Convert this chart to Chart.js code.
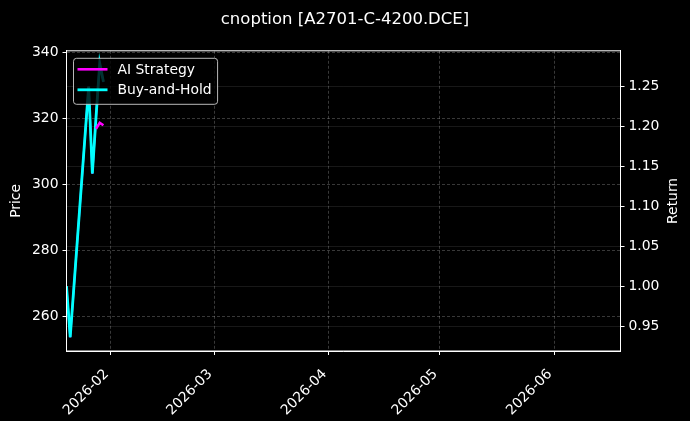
<!DOCTYPE html>
<html>
<head>
<meta charset="utf-8">
<script src="https://cdn.jsdelivr.net/npm/chart.js@4.4.1/dist/chart.umd.min.js"></script>
<style>
  html, body { margin: 0; padding: 0; background: #000; }
  #wrap { width: 690px; height: 421px; }
</style>
</head>
<body>
<div id="wrap"><canvas id="c"></canvas></div>
<script>
// values
const dates = ['2026-01-20', '2026-01-21', '2026-01-26', '2026-01-27', '2026-01-28', '2026-01-29', '2026-01-30'];
const price = [268.8, 253.5, 329.5, 303.1, 320.3, 336.5, 330.9];
const buyHold = [1.000, 0.936, 1.250, 1.141, 1.212, 1.279, 1.256];
const aiDates = ['2026-01-28', '2026-01-29', '2026-01-30'];
const aiStrategy = [1.197, 1.2045, 1.2014];

const xRange = ['2026-01-20', '2026-06-19'];
const monthTicks = ['2026-02-01', '2026-03-01', '2026-04-01', '2026-05-01', '2026-06-01'];
const priceTicks = [260, 280, 300, 320, 340];
const returnTicks = [0.95, 1.00, 1.05, 1.10, 1.15, 1.20, 1.25];

const FONT = 'DejaVu Sans';
const FS = 13.9;
Chart.defaults.font.family = FONT;
Chart.defaults.color = '#fff';

// day number from 2026-01-01
function dayNum(s) {
  const [y, m, d] = s.split('-').map(Number);
  return (Date.UTC(y, m - 1, d) - Date.UTC(2026, 0, 1)) / 86400000;
}
function dayLabel(v) {
  const dt = new Date(Date.UTC(2026, 0, 1) + v * 86400000);
  return dt.getUTCFullYear() + '-' + String(dt.getUTCMonth() + 1).padStart(2, '0');
}
const pts = (ds, vs) => ds.map((d, i) => ({ x: dayNum(d), y: vs[i] }));

const boxPlugin = {
  id: 'boxPlugin',
  afterDatasetsDraw(chart) {
    const ctx = chart.ctx;
    const a = chart.chartArea;
    ctx.save();
    ctx.setLineDash([]);
    // legend inside the axes, upper left
    const items = chart.data.datasets.filter(d => d.inLegend);
    ctx.font = FS + 'px ' + FONT;
    const tw = Math.max(...items.map(d => ctx.measureText(d.label).width));
    const bx = a.left + 7, by = a.top + 7.5, rowH = 20.5;
    const bw = 44 + tw + 6, bh = rowH * items.length + 5;
    ctx.beginPath();
    ctx.roundRect(bx, by, bw, bh, 3);
    ctx.fillStyle = 'rgba(0,0,0,0.8)';
    ctx.fill();
    ctx.strokeStyle = 'rgba(204,204,204,0.9)';
    ctx.lineWidth = 1;
    ctx.stroke();
    items.forEach((d, i) => {
      const y = by + 11 + i * rowH;
      ctx.strokeStyle = d.borderColor;
      ctx.lineWidth = d.borderWidth;
      ctx.beginPath();
      ctx.moveTo(bx + 4, y);
      ctx.lineTo(bx + 34, y);
      ctx.stroke();
      ctx.fillStyle = '#fff';
      ctx.textBaseline = 'middle';
      ctx.textAlign = 'left';
      ctx.fillText(d.label, bx + 44, y + 1);
    });
    // axes frame
    ctx.strokeStyle = '#fff';
    ctx.lineWidth = 1;
    ctx.strokeRect(a.left, a.top, a.right - a.left, a.bottom - a.top);
    // right axis label, reading bottom to top
    ctx.translate(673, (a.top + a.bottom) / 2);
    ctx.rotate(-Math.PI / 2);
    ctx.font = FS + 'px ' + FONT;
    ctx.fillStyle = '#fff';
    ctx.textAlign = 'center';
    ctx.textBaseline = 'middle';
    ctx.fillText('Return', 0, 0);
    ctx.restore();
  }
};

const gridCol = 'rgba(255,255,255,0.22)';

new Chart(document.getElementById('c'), {
  type: 'line',
  data: {
    datasets: [
      { label: 'AI Strategy', inLegend: true, data: pts(aiDates, aiStrategy), yAxisID: 'yR',
        borderColor: '#ff00ff', borderWidth: 2.6, pointRadius: 0, tension: 0, order: 1 },
      { label: 'Buy-and-Hold', inLegend: true, data: pts(dates, buyHold), yAxisID: 'yR',
        borderColor: '#00ffff', borderWidth: 2.8, pointRadius: 0, tension: 0, order: 2 },
      { label: 'Price', inLegend: false, data: pts(dates, price), yAxisID: 'yP',
        borderColor: '#7b5cff', borderWidth: 2, pointRadius: 0, tension: 0, order: 3 }
    ]
  },
  options: {
    responsive: true,
    maintainAspectRatio: false,
    animation: false,
    layout: { padding: 0 },
    plugins: {
      legend: { display: false },
      tooltip: { enabled: false },
      title: {
        display: true,
        text: 'cnoption [A2701-C-4200.DCE]',
        color: '#fff',
        font: { size: 16.5, weight: 'normal', family: FONT },
        padding: { top: 10, bottom: 21 }
      }
    },
    scales: {
      x: {
        type: 'linear',
        min: dayNum(xRange[0]),
        max: dayNum(xRange[1]),
        afterBuildTicks: s => { s.ticks = monthTicks.map(m => ({ value: dayNum(m) })); },
        afterFit: s => { s.height = 70; },
        ticks: {
          callback: v => dayLabel(v),
          color: '#fff',
          font: { size: FS },
          minRotation: 45, maxRotation: 45, autoSkip: false, padding: 11, labelOffset: -4
        },
        grid: { color: gridCol, tickColor: '#fff', tickLength: 4, tickBorderDash: [] },
        border: { color: '#fff', dash: [3, 2] }
      },
      yP: {
        position: 'left',
        min: 249.4, max: 340.4,
        afterBuildTicks: s => { s.ticks = priceTicks.map(v => ({ value: v })); },
        afterFit: s => { s.width = 66.5; },
        ticks: { color: '#fff', font: { size: FS }, padding: 4 },
        title: { display: true, text: 'Price', color: '#fff', font: { size: FS }, padding: { top: 8 } },
        grid: { color: gridCol, tickColor: '#fff', tickLength: 4, tickBorderDash: [] },
        border: { color: '#fff', dash: [3, 2] }
      },
      yR: {
        position: 'right',
        min: 0.9187, max: 1.2947,
        afterBuildTicks: s => { s.ticks = returnTicks.map(v => ({ value: v })); },
        afterFit: s => { s.width = 69.5; },
        ticks: { color: '#fff', font: { size: FS }, padding: 4, callback: v => v.toFixed(2) },
        grid: { color: 'rgba(255,255,255,0.12)', lineWidth: 0.8, tickColor: '#fff', tickLength: 4, tickWidth: 1 },
        border: { color: '#fff' }
      }
    }
  },
  plugins: [boxPlugin]
});
</script>
</body>
</html>
